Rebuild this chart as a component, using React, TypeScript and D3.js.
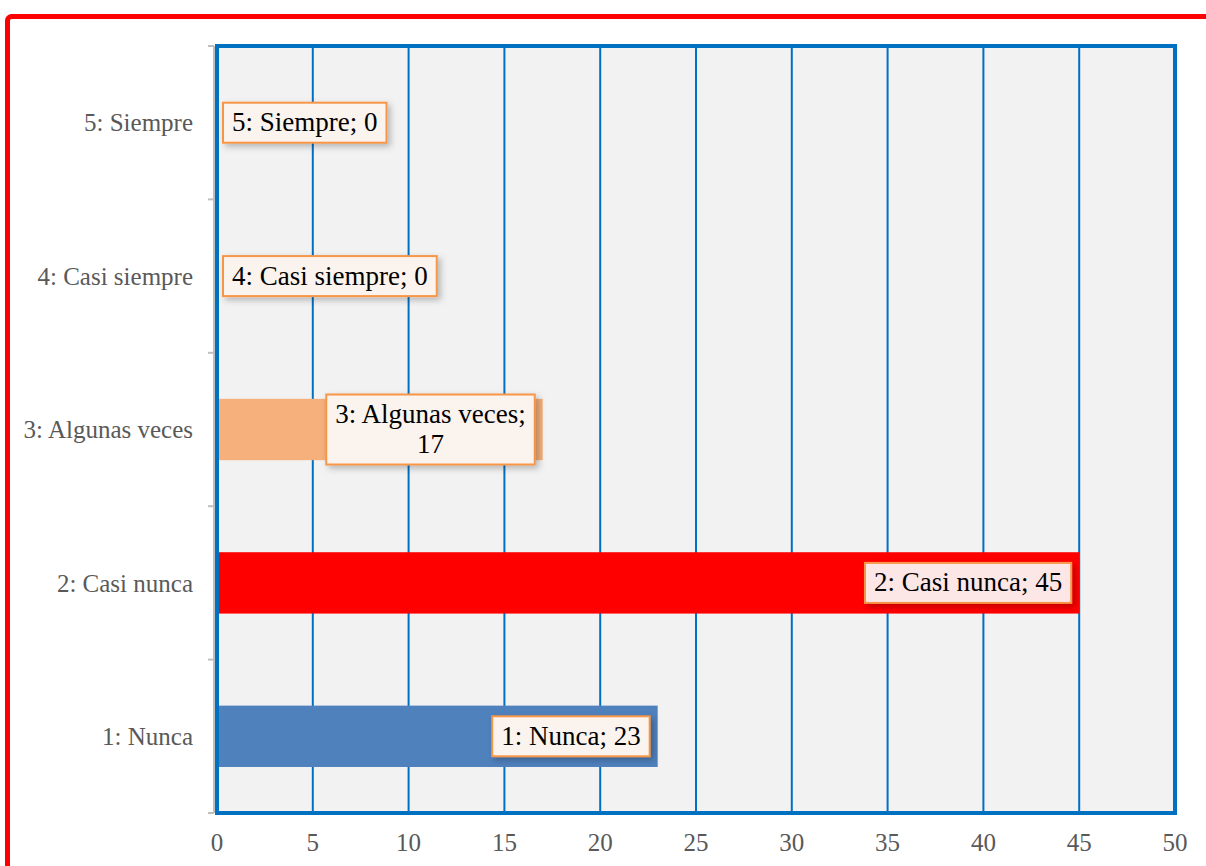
import React, { useEffect, useRef } from "react";
import * as d3 from "d3";

const categories = ["1: Nunca", "2: Casi nunca", "3: Algunas veces", "4: Casi siempre", "5: Siempre"];
const values = [23, 45, 17, 0, 0];
const barColors = ["#4F81BD", "#FF0000", "#F5B07B", "#F79646", "#9BBB59"];
const labelFills = ["#FBF3EE", "#FDE6E6", "#FBF3EE", "#FBF3EE", "#FBF3EE"];
const xTicks = [0, 5, 10, 15, 20, 25, 30, 35, 40, 45, 50];

const App = () => {
  const ref = useRef<SVGSVGElement>(null);

  useEffect(() => {
    const svg = d3.select(ref.current);
    svg.selectAll("*").remove();

    const left = 217;
    const right = 1175;
    const top = 46;
    const bottom = 813;
    const font = "'Liberation Serif', serif";

    const x = d3.scaleLinear().domain([0, 50]).range([left, right]);
    const y = d3
      .scaleBand()
      .domain([...categories].reverse())
      .range([top, bottom])
      .paddingInner(0.6)
      .paddingOuter(0.3);

    const defs = svg.append("defs");
    const f = defs
      .append("filter")
      .attr("id", "sh")
      .attr("x", "-20%")
      .attr("y", "-30%")
      .attr("width", "150%")
      .attr("height", "180%");
    f.append("feDropShadow")
      .attr("dx", 3)
      .attr("dy", 3)
      .attr("stdDeviation", 3)
      .attr("flood-color", "#000")
      .attr("flood-opacity", 0.25);

    // outer red frame
    svg
      .append("rect")
      .attr("x", 7.5)
      .attr("y", 16.5)
      .attr("width", 1230)
      .attr("height", 900)
      .attr("rx", 4)
      .attr("fill", "none")
      .attr("stroke", "#FF0000")
      .attr("stroke-width", 5);

    // plot background
    svg
      .append("rect")
      .attr("x", left)
      .attr("y", top)
      .attr("width", right - left)
      .attr("height", bottom - top)
      .attr("fill", "#F2F2F2");

    // vertical grid
    svg
      .append("g")
      .selectAll("line")
      .data(xTicks.slice(1, -1))
      .join("line")
      .attr("x1", (d) => x(d))
      .attr("x2", (d) => x(d))
      .attr("y1", top)
      .attr("y2", bottom)
      .attr("stroke", "#0070C0")
      .attr("stroke-width", 2);

    // bars
    svg
      .append("g")
      .selectAll("rect")
      .data(values)
      .join("rect")
      .attr("x", x(0))
      .attr("y", (d, i) => y(categories[i])!)
      .attr("width", (d) => x(d) - x(0))
      .attr("height", y.bandwidth())
      .attr("fill", (d, i) => barColors[i]);

    // plot border
    svg
      .append("rect")
      .attr("x", left)
      .attr("y", top)
      .attr("width", right - left)
      .attr("height", bottom - top)
      .attr("fill", "none")
      .attr("stroke", "#0070C0")
      .attr("stroke-width", 4);

    // left axis line + ticks
    const ax = svg.append("g");
    ax.append("line")
      .attr("x1", left - 3)
      .attr("x2", left - 3)
      .attr("y1", top)
      .attr("y2", bottom)
      .attr("stroke", "#BFBFBF")
      .attr("stroke-width", 2);
    const edges = d3.range(categories.length + 1).map((i) => top + (i * (bottom - top)) / categories.length);
    ax.selectAll("line.t")
      .data(edges)
      .join("line")
      .attr("class", "t")
      .attr("x1", left - 9)
      .attr("x2", left - 3)
      .attr("y1", (d) => d)
      .attr("y2", (d) => d)
      .attr("stroke", "#BFBFBF")
      .attr("stroke-width", 2);

    // category labels
    svg
      .append("g")
      .selectAll("text")
      .data(categories)
      .join("text")
      .attr("x", 193)
      .attr("y", (d) => y(d)! + y.bandwidth() / 2)
      .attr("dy", "0.35em")
      .attr("text-anchor", "end")
      .attr("font-family", font)
      .attr("font-size", 25)
      .attr("fill", "#595959")
      .text((d) => d);

    // x tick labels
    svg
      .append("g")
      .selectAll("text")
      .data(xTicks)
      .join("text")
      .attr("x", (d) => x(d))
      .attr("y", 851)
      .attr("text-anchor", "middle")
      .attr("font-family", font)
      .attr("font-size", 25)
      .attr("fill", "#595959")
      .text((d) => d);

    // data labels
    const lg = svg.append("g");
    values.forEach((v, i) => {
      const cat = categories[i];
      const lines = cat === "3: Algunas veces" ? [`${cat};`, `${v}`] : [`${cat}; ${v}`];
      const g = lg.append("g");
      const rect = g.append("rect");
      const t = g
        .append("text")
        .attr("font-family", font)
        .attr("font-size", 27)
        .attr("fill", "#000")
        .attr("text-anchor", "middle");
      const lh = 30;
      lines.forEach((s, k) => {
        t.append("tspan").attr("x", 0).attr("y", k * lh).text(s);
      });
      const bb = (t.node() as SVGTextElement).getBBox();
      const w = bb.width + 18;
      const h = lines.length * lh + 10;
      const cy = y(cat)! + y.bandwidth() / 2;
      let bx: number;
      if (v === 0) bx = x(0) + 6;
      else bx = x(v) - 8 - w;
      const by = cy - h / 2;
      rect
        .attr("x", bx)
        .attr("y", by)
        .attr("width", w)
        .attr("height", h)
        .attr("fill", labelFills[i])
        .attr("stroke", "#F79646")
        .attr("stroke-width", 2)
        .attr("filter", "url(#sh)");
      t.selectAll("tspan").attr("x", bx + w / 2);
      t.attr("transform", `translate(0, ${by + 5 + lh * 0.78})`);
    });
  }, []);

  return (
    <svg
      ref={ref}
      width={1206}
      height={866}
      style={{ position: "absolute", left: 0, top: 0, background: "#fff" }}
    ></svg>
  );
};

export default App;
